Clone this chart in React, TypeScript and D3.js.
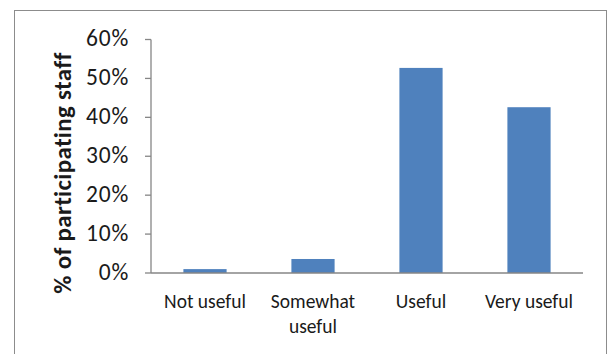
import React from "react";
import * as d3 from "d3";

const categories: string[][] = [["Not useful"], ["Somewhat", "useful"], ["Useful"], ["Very useful"]];
const values: number[] = [0.01, 0.036, 0.527, 0.426];
const yTicks: number[] = [0, 0.1, 0.2, 0.3, 0.4, 0.5, 0.6];
const yTitle = "% of participating staff";

const W = 611;
const H = 354;
const plot = { left: 151, right: 583, top: 39.5, bottom: 273 };
const font = "Carlito, 'Liberation Sans Narrow', 'Open Sans', sans-serif";

export default function App() {
  const x = d3
    .scaleBand<number>()
    .domain(d3.range(categories.length))
    .range([plot.left, plot.right])
    .paddingInner(0.6)
    .paddingOuter(0.3);
  const y = d3.scaleLinear().domain([0, 0.6]).range([plot.bottom, plot.top]);
  const fmt = d3.format(".0%");

  return (
    <svg
      width={W}
      height={H}
      style={{ position: "absolute", left: 0, top: 0, background: "#fff" }}
    >
      <rect x={14.5} y={10.5} width={592} height={360} fill="#fff" stroke="#8c8c8c" strokeWidth={1} />
      {values.map((v, i) => (
        <rect
          key={i}
          x={x(i)}
          y={y(v)}
          width={x.bandwidth()}
          height={y(0) - y(v)}
          fill="#4F81BD"
        />
      ))}
      {/* y axis */}
      <line x1={plot.left} x2={plot.left} y1={y(0.6)} y2={y(0)} stroke="#868686" strokeWidth={1.3} />
      {yTicks.map((t) => (
        <g key={t}>
          <line x1={plot.left - 6} x2={plot.left} y1={y(t)} y2={y(t)} stroke="#868686" strokeWidth={1.3} />
          <text
            x={129}
            y={y(t) + 6.5}
            textAnchor="end"
            fontFamily={font}
            fontSize={23.5}
            letterSpacing={0.8}
            fill="#1a1a1a"
          >
            {fmt(t)}
          </text>
        </g>
      ))}
      {/* x axis */}
      <line x1={plot.left} x2={plot.right} y1={y(0)} y2={y(0)} stroke="#868686" strokeWidth={1.3} />
      {categories.map((lines, i) => (
        <text
          key={i}
          x={(x(i) as number) + x.bandwidth() / 2}
          y={307.5}
          textAnchor="middle"
          fontFamily={font}
          fontSize={19.5}
          fill="#1a1a1a"
        >
          {lines.map((l, j) => (
            <tspan key={j} x={(x(i) as number) + x.bandwidth() / 2} dy={j === 0 ? 0 : 25}>
              {l}
            </tspan>
          ))}
        </text>
      ))}
      <text
        transform={`translate(62, ${(49 + 297) / 2}) rotate(-90)`}
        textAnchor="middle"
        dy="0.35em"
        fontFamily={font}
        fontSize={25}
        letterSpacing={0.3}
        fontWeight="bold"
        fill="#1a1a1a"
      >
        {yTitle}
      </text>
    </svg>
  );
}
